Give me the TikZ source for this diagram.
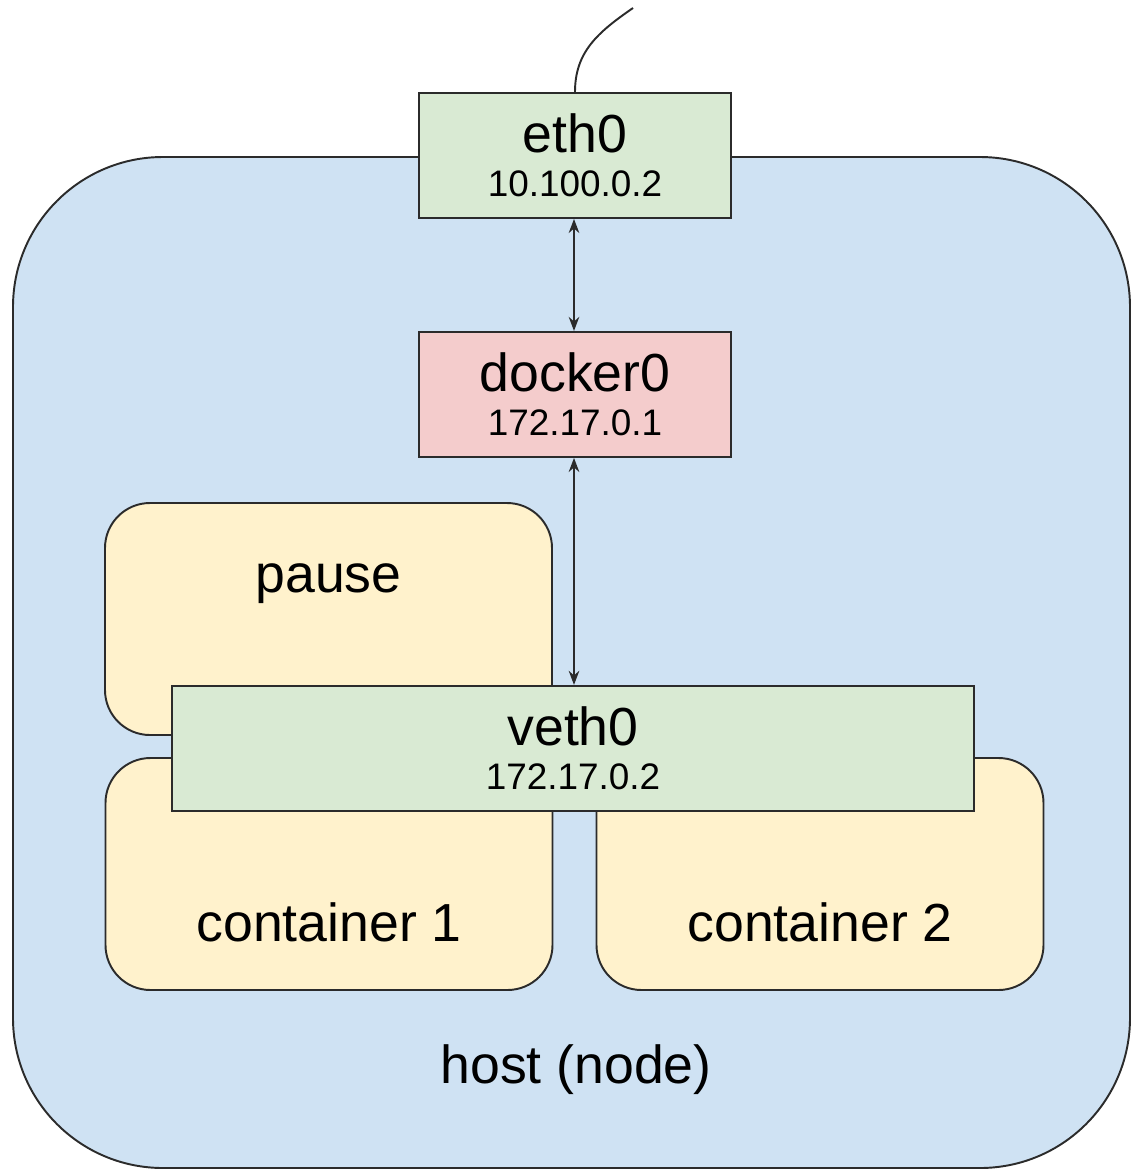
\documentclass[tikz,border=0pt]{standalone}
\usepackage{fontspec}
\setmainfont{Liberation Sans}
\usetikzlibrary{positioning,arrows.meta}
\definecolor{hostblue}{HTML}{CFE2F3}
\definecolor{ifgreen}{HTML}{D9EAD3}
\definecolor{bridgepink}{HTML}{F4CCCC}
\definecolor{podyellow}{HTML}{FFF2CC}
\definecolor{edgegray}{HTML}{2B2B2B}

\newcommand{\ifname}[1]{{\fontsize{30.5}{25}\selectfont #1}}

\begin{document}
\begin{tikzpicture}[
    >={Stealth[length=8pt,width=6pt]},
    every node/.style={font=\fontsize{21}{25}\selectfont},
    iface/.style={
        draw=edgegray, fill=#1, line width=1.1pt,
        minimum width=6.24cm, minimum height=2.5cm,
        inner sep=0pt, align=center
    },
    box/.style={
        draw=edgegray, fill=podyellow, rounded corners=0.9cm,
        line width=1.1pt, minimum width=8.94cm, minimum height=4.64cm,
        inner sep=0pt
    },
    lbl/.style={font=\fontsize{30.5}{31}\selectfont, inner sep=0pt},
    link/.style={<->, line width=1.1pt, color=edgegray},
]
\useasboundingbox (0,0) rectangle (22.62,-23.4);

% Host
\draw[draw=edgegray, fill=hostblue, line width=1.1pt, rounded corners=3cm]
    (0.26,-3.14) rectangle (22.6,-23.36);
\node[lbl] (hostlbl) at (11.52,-21.4) {host (node)};

% Pause and containers
\node[box] (pause) at (6.57,-12.38) {};
\node[lbl] (pauselbl) at (6.57,-11.68) {pause};
\node[box] (cont1) at (6.58,-17.48) {};
\node[lbl] (cont1lbl) at (6.58,-18.44) {container 1};
\node[box] (cont2) at (16.4,-17.48) {};
\node[lbl] (cont2lbl) at (16.4,-18.44) {container 2};

% Interfaces
\node[iface=ifgreen] (eth0) at (11.5,-3.11) {\ifname{eth0}\\10.100.0.2};
\node[iface=bridgepink, below=2.24cm of eth0] (docker0) {\ifname{docker0}\\172.17.0.1};
\node[iface=ifgreen, minimum width=16.04cm, below=4.54cm of docker0, xshift=-0.04cm] (veth0)
    {\ifname{veth0}\\172.17.0.2};

% Links
\draw[link] ([xshift=-0.02cm]eth0.south) -- ([xshift=-0.02cm]docker0.north);
\draw[link] ([xshift=-0.02cm]docker0.south) -- ([xshift=0.02cm]veth0.north);

% Uplink wire
\coordinate (uplink) at (12.66,-0.16);
\draw[line width=1.1pt, color=edgegray] (eth0.north)
    .. controls ([yshift=0.8cm]eth0.north) and (11.95,-0.65) .. (uplink);
\end{tikzpicture}
\end{document}
